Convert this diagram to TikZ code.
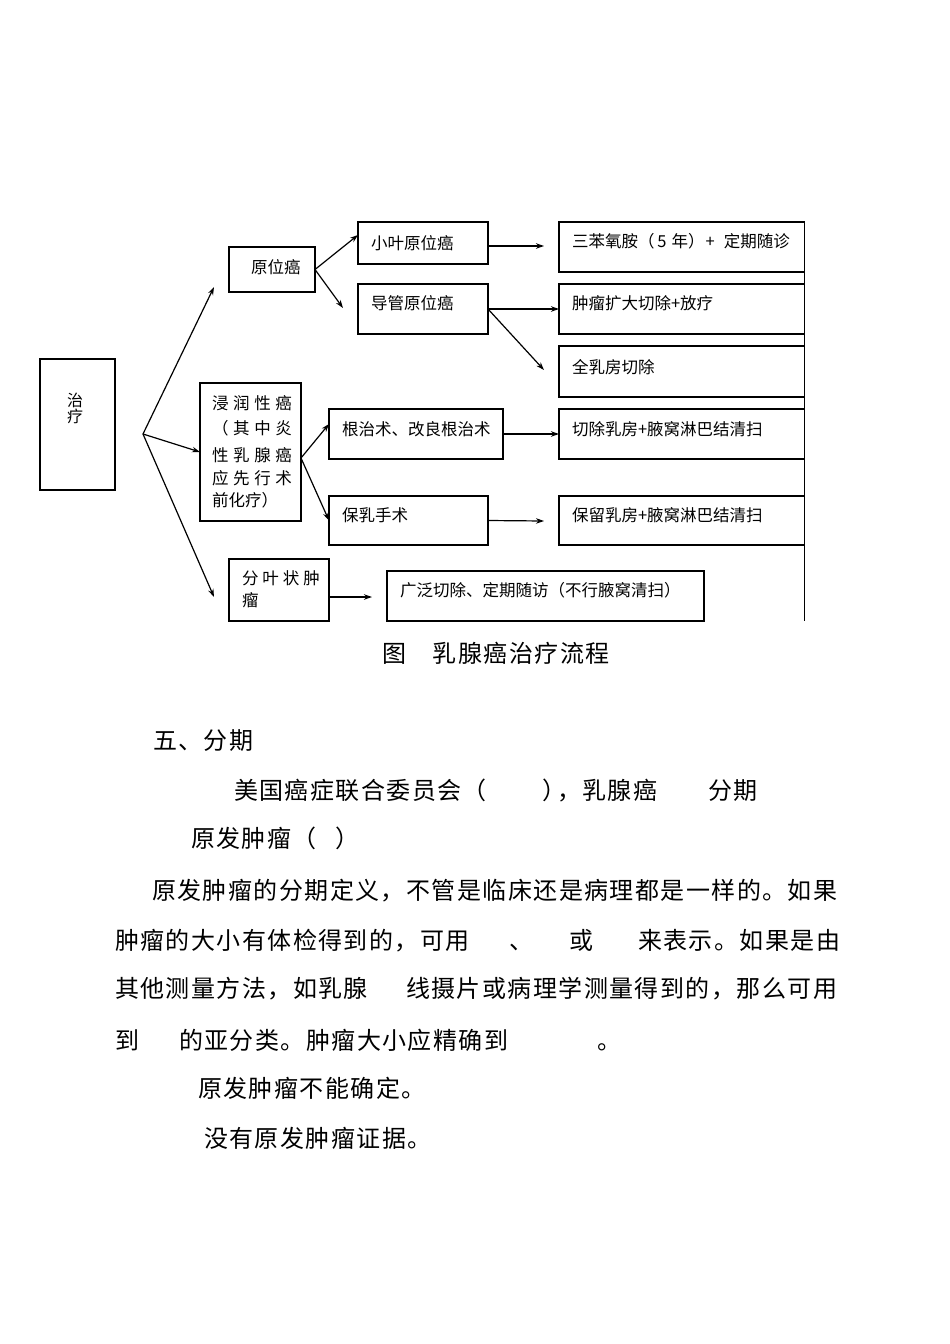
\documentclass[tikz,border=0pt]{standalone}
\usepackage{fontspec}
\setmainfont{Noto Sans CJK SC}
\newfontfamily\cjkbody[LetterSpace=6]{Noto Sans CJK SC}
\usetikzlibrary{arrows.meta}
\tikzset{
  box/.style={draw, line width=1.3pt, inner sep=0pt, outer sep=0pt},
  lbl/.style={inner sep=0pt, outer sep=0pt, anchor=base west, font=\fontsize{16.5}{16.5}\selectfont},
  txt/.style={inner sep=0pt, outer sep=0pt, anchor=base west, font=\cjkbody\fontsize{24}{24}\selectfont},
  arr/.style={line width=1.2pt, -{Stealth[length=8pt,width=5.5pt]}},
}
\newcommand\bxnode[5]{\node[box,minimum width={(#4-#2)*1pt},minimum height={(#5-#3)*1pt}] (#1) at ({(#2+#4)/2},{(#3+#5)/2}) {};}
\begin{document}
\begin{tikzpicture}[x=1pt,y=-1pt]
\useasboundingbox (0,0) rectangle (950,1344);
% boxes
\bxnode{zl}{40}{359}{115}{490}
\bxnode{yw}{229}{247}{315}{292}
\bxnode{jr}{200}{383}{301}{521}
\bxnode{fy}{229}{559}{329}{621}
\bxnode{xy}{358}{222}{488}{264}
\bxnode{dg}{358}{284}{488}{334}
\bxnode{sb}{559}{222}{804.5}{272}
\bxnode{zk}{559}{284}{804.5}{334}
\bxnode{qr}{559}{346}{804.5}{397}
\bxnode{gz}{329}{409}{503}{459}
\bxnode{qc}{559}{409}{804.5}{459}
\bxnode{bs}{329}{496}{488}{545}
\bxnode{bl}{559}{496}{804.5}{545}
\bxnode{gf}{387}{571}{704}{621}
% right rule
\coordinate (vt) at (804.5,222);
\coordinate (vb) at (804.5,621);
\draw[line width=1.3pt] (vt) -- (vb);
% box labels
\node[inner sep=0pt, anchor=base, align=center, font=\fontsize{16}{16}\selectfont] (tzl) at (75,422) {治\\疗};
\node[lbl] (tyw) at (251,273) {原位癌};
\node[lbl] (txy) at (371,249) {小叶原位癌};
\node[lbl] (tdg) at (371,309) {导管原位癌};
\node[lbl] (tsb) at (572,247) {三苯氧胺（\hspace{3pt}5\hspace{5pt}年）\hspace{1pt}+\hspace{9pt}定期随诊};
\node[lbl] (tzk) at (572,309) {肿瘤扩大切除+放疗};
\node[lbl] (tqr) at (572,373) {全乳房切除};
\node[lbl] (tgz) at (342,435) {根治术、改良根治术};
\node[lbl] (tqc) at (572,435) {切除乳房+腋窝淋巴结清扫};
\node[lbl] (tbs) at (342,521) {保乳手术};
\node[lbl] (tbl) at (572,521) {保留乳房+腋窝淋巴结清扫};
\node[lbl] (tgf) at (400,596) {广泛切除、定期随访（不行腋窝清扫）};
\node[lbl] (tjr1) at (212,409) {\makebox[80pt][s]{浸\hfill 润\hfill 性\hfill 癌}};
\node[lbl] (tjr2) at (212,434) {\makebox[80pt][s]{（\hfill 其\hfill 中\hfill 炎}};
\node[lbl] (tjr3) at (212,461) {\makebox[80pt][s]{性\hfill 乳\hfill 腺\hfill 癌}};
\node[lbl] (tjr4) at (212,484) {\makebox[80pt][s]{应\hfill 先\hfill 行\hfill 术}};
\node[lbl] (tjr5) at (212,506) {前化疗）};
\node[lbl] (tfy1) at (242,584) {\makebox[78pt][s]{分\hfill 叶\hfill 状\hfill 肿}};
\node[lbl] (tfy2) at (242,606) {瘤};
% connectors
\coordinate (fork) at (143,434);
\coordinate (e1) at (214,287);
\coordinate (e3) at (214,597);
\draw[arr] (fork) -- (e1);
\draw[arr] (fork) -- (jr.west);
\draw[arr] (fork) -- (e3);
\coordinate (ywa) at (yw.east);
\coordinate (xyin) at (358,235);
\coordinate (dgend) at (343,308);
\draw[arr] (ywa) -- (xyin);
\draw[arr] (ywa) -- (dgend);
\coordinate (xyout) at (488,246);
\coordinate (xyend) at (544,246);
\draw[arr] (xyout) -- (xyend);
\coordinate (dgout) at (488,309);
\coordinate (dgend2) at (544,370);
\draw[arr] (dgout) -- (zk.west);
\draw[arr] (dgout) -- (dgend2);
\draw[arr] (gz.east) -- (qc.west);
\coordinate (jrout) at (301,458);
\coordinate (gzin) at (329,424);
\draw[arr] (jrout) -- (gzin);
\draw[arr] (jrout) -- (bs.west);
\coordinate (bsout) at (488,520.5);
\coordinate (bsend) at (544,521);
\draw[arr] (bsout) -- (bsend);
\coordinate (fyout) at (329,597);
\coordinate (fyend) at (372,597);
\draw[arr] (fyout) -- (fyend);
% caption and text
\node[txt] (cap) at (382,662) {图　乳腺癌治疗流程};
\node[txt] (h5) at (153,749) {五、分期};
\node[txt] (l1a) at (234,799) {美国癌症联合委员会（};
\node[txt] (l1b) at (542,799) {）};
\node[txt] (l1c) at (557,799) {，乳腺癌};
\node[txt] (l1d) at (708,799) {分期};
\node[txt] (l2a) at (191,847) {原发肿瘤（};
\node[txt] (l2b) at (335,847) {）};
\node[txt] (p1) at (152,899) {原发肿瘤的分期定义，不管是临床还是病理都是一样的。如果};
\node[txt] (p2a) at (115,949) {肿瘤的大小有体检得到的，可用};
\node[txt] (p2b) at (509,949) {、};
\node[txt] (p2c) at (569,949) {或};
\node[txt] (p2d) at (638,949) {来表示。如果是由};
\node[txt] (p3a) at (115,997) {其他测量方法，如乳腺};
\node[txt] (p3b) at (406,997) {线摄片或病理学测量得到的，那么可用};
\node[txt] (p4a) at (115,1049) {到};
\node[txt] (p4b) at (179,1049) {的亚分类。肿瘤大小应精确到};
\node[txt] (p4c) at (597,1049) {。};
\node[txt] (q1) at (198,1097) {原发肿瘤不能确定。};
\node[txt] (q2) at (204,1147) {没有原发肿瘤证据。};
\end{tikzpicture}
\end{document}
